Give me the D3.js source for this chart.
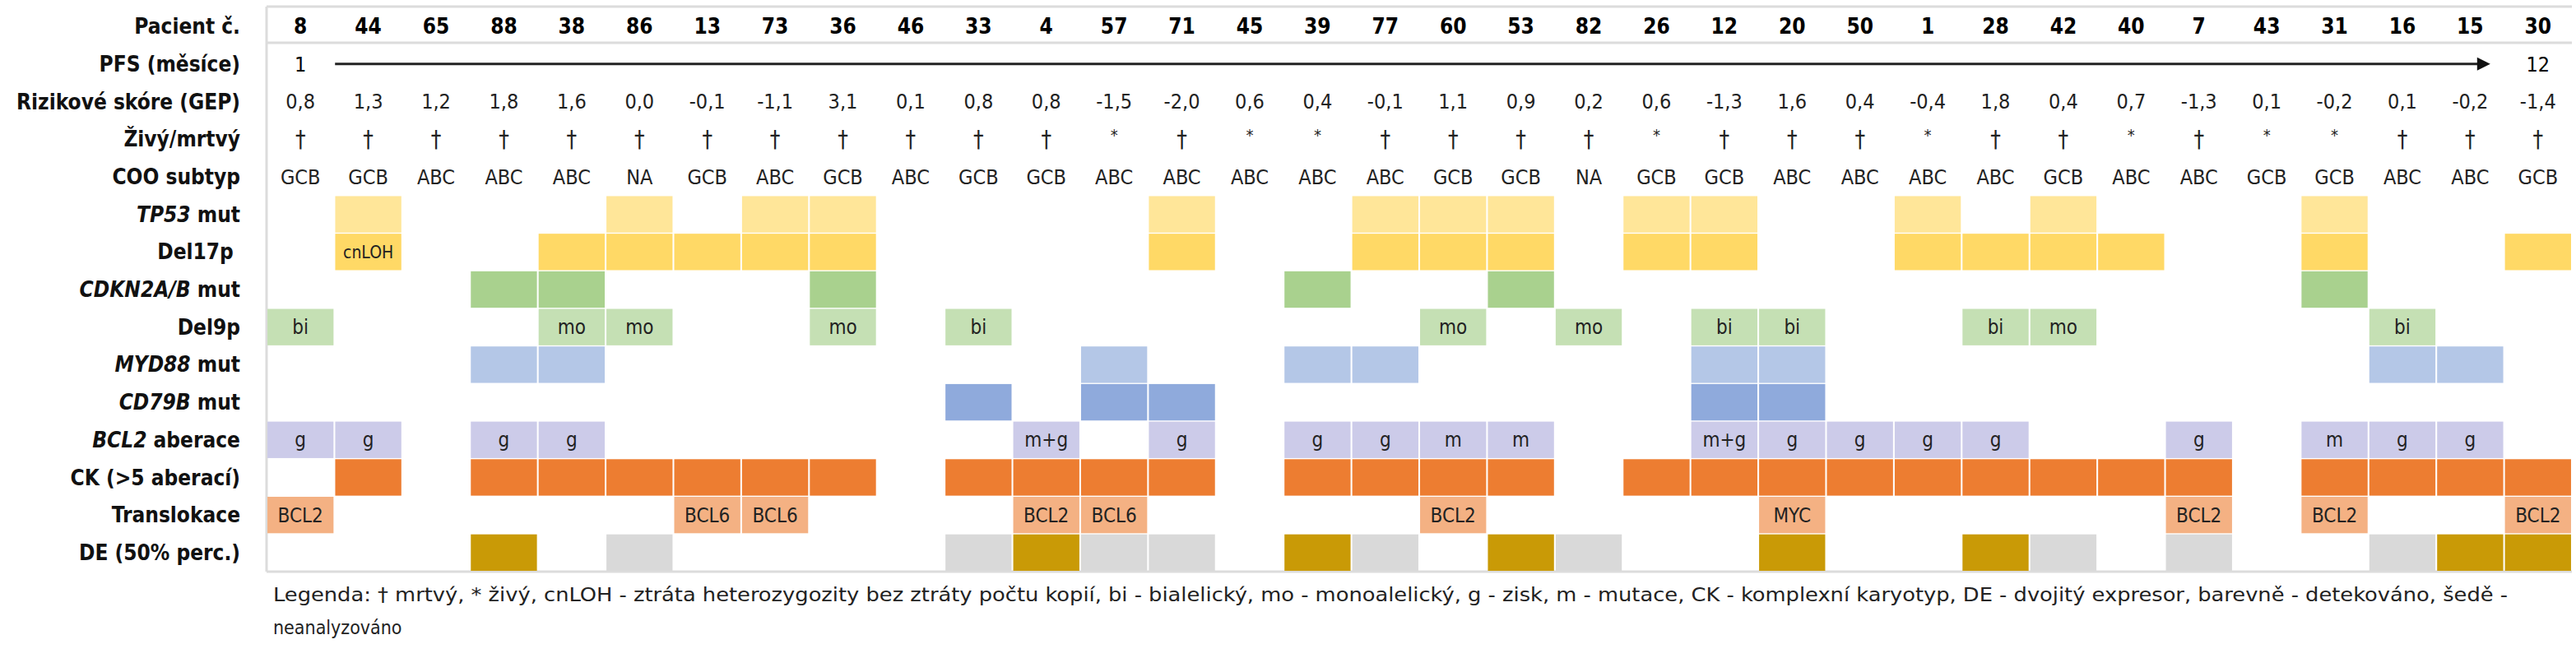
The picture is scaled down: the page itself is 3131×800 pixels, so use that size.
<!DOCTYPE html>
<html><head><meta charset="utf-8">
<script src="https://cdn.jsdelivr.net/npm/d3@7/dist/d3.min.js"></script>
<style>body{margin:0;background:#fff}svg{display:block}</style>
</head><body><svg id="c" width="3131" height="800"></svg>
<script>
const patients=["8","44","65","88","38","86","13","73","36","46","33","4","57","71","45","39","77","60","53","82","26","12","20","50","1","28","42","40","7","43","31","16","15","30"];
const riskScore=["0,8","1,3","1,2","1,8","1,6","0,0","-0,1","-1,1","3,1","0,1","0,8","0,8","-1,5","-2,0","0,6","0,4","-0,1","1,1","0,9","0,2","0,6","-1,3","1,6","0,4","-0,4","1,8","0,4","0,7","-1,3","0,1","-0,2","0,1","-0,2","-1,4"];
const alive=["†","†","†","†","†","†","†","†","†","†","†","†","*","†","*","*","†","†","†","†","*","†","†","†","*","†","†","*","†","*","*","†","†","†"];
const coo=["GCB","GCB","ABC","ABC","ABC","NA","GCB","ABC","GCB","ABC","GCB","GCB","ABC","ABC","ABC","ABC","ABC","GCB","GCB","NA","GCB","GCB","ABC","ABC","ABC","ABC","GCB","ABC","ABC","GCB","GCB","ABC","ABC","GCB"];
const pfsLabels=["1","12"];
// cell rows: {patient index: text}
const tp53={1:"",5:"",7:"",8:"",13:"",16:"",17:"",18:"",20:"",21:"",24:"",26:"",30:""};
const del17p={1:"cnLOH",4:"",5:"",6:"",7:"",8:"",13:"",16:"",17:"",18:"",20:"",21:"",24:"",25:"",26:"",27:"",30:"",33:""};
const cdkn={3:"",4:"",8:"",15:"",18:"",30:""};
const del9p={0:"bi",4:"mo",5:"mo",8:"mo",10:"bi",17:"mo",19:"mo",21:"bi",22:"bi",25:"bi",26:"mo",31:"bi"};
const myd88={3:"",4:"",12:"",15:"",16:"",21:"",22:"",31:"",32:""};
const cd79b={10:"",12:"",13:"",21:"",22:""};
const bcl2={0:"g",1:"g",3:"g",4:"g",11:"m+g",13:"g",15:"g",16:"g",17:"m",18:"m",21:"m+g",22:"g",23:"g",24:"g",25:"g",28:"g",30:"m",31:"g",32:"g"};
const ck={1:"",3:"",4:"",5:"",6:"",7:"",8:"",10:"",11:"",12:"",13:"",15:"",16:"",17:"",18:"",20:"",21:"",22:"",23:"",24:"",25:"",26:"",27:"",28:"",30:"",31:"",32:"",33:""};
const transl={0:"BCL2",6:"BCL6",7:"BCL6",11:"BCL2",12:"BCL6",17:"BCL2",22:"MYC",28:"BCL2",30:"BCL2",33:"BCL2"};
const deDetected=[3,11,15,18,22,25,32,33];
const deNotAnalyzed=[5,10,12,13,16,19,26,28,31];

const rowLabels=[
 [{t:"Pacient č."}],[{t:"PFS (měsíce)"}],[{t:"Rizikové skóre (GEP)"}],[{t:"Živý/mrtvý"}],[{t:"COO subtyp"}],
 [{t:"TP53",i:1},{t:" mut"}],[{t:"Del17p "}],[{t:"CDKN2A/B",i:1},{t:" mut"}],[{t:"Del9p"}],
 [{t:"MYD88",i:1},{t:" mut"}],[{t:"CD79B",i:1},{t:" mut"}],[{t:"BCL2",i:1},{t:" aberace"}],
 [{t:"CK (>5 aberací)"}],[{t:"Translokace"}],[{t:"DE (50% perc.)"}]];
const cellRows=[
 {r:5,d:tp53,c:"#FFE699"},{r:6,d:del17p,c:"#FFD966"},{r:7,d:cdkn,c:"#A9D18E"},{r:8,d:del9p,c:"#C5E0B4"},
 {r:9,d:myd88,c:"#B4C7E7"},{r:10,d:cd79b,c:"#8FAADC"},{r:11,d:bcl2,c:"#CCCBE9"},{r:12,d:ck,c:"#ED7D31"},
 {r:13,d:transl,c:"#F4B183"}];

const F="'Liberation Sans Narrow','Arial Narrow','DejaVu Sans Condensed',sans-serif";
const svg=d3.select("#c");
const x=d3.scaleBand().domain(d3.range(patients.length)).range([324,3126]).paddingInner(0.025).paddingOuter(0.0125);
const y=d3.scaleBand().domain(d3.range(15)).range([10,694]).paddingInner(0.03);
const cx=i=>x(i)+x.bandwidth()/2, cy=r=>y(r)+y.bandwidth()/2;

// frame
const g0=svg.append("g").attr("stroke","#dcdcdc").attr("stroke-width",3);
g0.append("line").attr("x1",324).attr("x2",3126).attr("y1",8).attr("y2",8);
g0.append("line").attr("x1",324).attr("x2",3126).attr("y1",52).attr("y2",52);
g0.append("line").attr("x1",324).attr("x2",3126).attr("y1",695).attr("y2",695);
g0.append("line").attr("x1",324).attr("x2",324).attr("y1",8).attr("y2",695);

// row labels
const lab=svg.append("g").attr("font-family",F).attr("font-weight","bold").attr("font-size",26).attr("fill","#111").attr("text-anchor","end");
rowLabels.forEach((parts,r)=>{
  const t=lab.append("text").attr("x",292).attr("y",cy(r)).attr("dy","0.35em");
  parts.forEach(p=>t.append("tspan").attr("font-style",p.i?"italic":"normal").attr("xml:space","preserve").text(p.t));
});

// header
svg.append("g").selectAll("text").data(patients).join("text")
 .attr("x",(d,i)=>cx(i)).attr("y",cy(0)).attr("dy","0.35em").attr("text-anchor","middle")
 .attr("font-family",F).attr("font-weight","bold").attr("font-size",26).text(d=>d);

// PFS
const last=patients.length-1;
svg.append("text").attr("x",cx(0)).attr("y",cy(1)).attr("dy","0.35em").attr("text-anchor","middle").attr("font-family",F).attr("font-size",25).text(pfsLabels[0]);
svg.append("text").attr("x",cx(last)).attr("y",cy(1)).attr("dy","0.35em").attr("text-anchor","middle").attr("font-family",F).attr("font-size",25).text(pfsLabels[1]);
svg.append("line").attr("x1",cx(0)+42).attr("x2",cx(last)-72).attr("y1",cy(1)).attr("y2",cy(1)).attr("stroke","#222").attr("stroke-width",3);
svg.append("path").attr("d",`M${cx(last)-74},${cy(1)-8}L${cx(last)-58},${cy(1)}L${cx(last)-74},${cy(1)+8}Z`).attr("fill","#111");

// text rows
[[2,riskScore,25],[3,alive,28],[4,coo,25]].forEach(([r,arr,fs])=>{
 svg.append("g").selectAll("text").data(arr).join("text")
  .attr("x",(d,i)=>cx(i)).attr("y",cy(r)+(r===3?(arr===alive?0:0):0)).attr("dy",d=>d==="*"?"0.1em":"0.35em").attr("text-anchor","middle")
  .attr("font-family",F).attr("font-size",d=>d==="*"?20:fs).attr("fill","#222").text(d=>d);
});

// cells
cellRows.forEach(cr=>{
 const ent=Object.entries(cr.d).map(([k,v])=>({i:+k,v}));
 const g=svg.append("g");
 g.selectAll("rect").data(ent).join("rect").attr("x",d=>x(d.i)).attr("y",y(cr.r)).attr("width",x.bandwidth()).attr("height",y.bandwidth()).attr("fill",cr.c);
 g.selectAll("text").data(ent.filter(d=>d.v)).join("text").attr("x",d=>cx(d.i)).attr("y",cy(cr.r)).attr("dy","0.35em")
  .attr("text-anchor","middle").attr("font-family",F).attr("font-size",d=>d.v==="cnLOH"?21:24).attr("fill","#222").text(d=>d.v);
});
const deData=deDetected.map(i=>({i,c:"#C99A06"})).concat(deNotAnalyzed.map(i=>({i,c:"#D9D9D9"})));
svg.append("g").selectAll("rect").data(deData).join("rect").attr("x",d=>x(d.i)).attr("y",y(14)).attr("width",x.bandwidth()).attr("height",y.bandwidth()).attr("fill",d=>d.c);

// legend
const lg=svg.append("g").attr("font-family",F).attr("font-size",23).attr("fill","#222");
lg.append("text").attr("x",332).attr("y",731).attr("textLength",2716).attr("lengthAdjust","spacingAndGlyphs")
 .text("Legenda: † mrtvý, * živý, cnLOH - ztráta heterozygozity bez ztráty počtu kopií, bi - bialelický, mo - monoalelický, g - zisk, m - mutace, CK - komplexní karyotyp, DE - dvojitý expresor, barevně - detekováno, šedě -");
lg.append("text").attr("x",332).attr("y",771).text("neanalyzováno");
</script></body></html>
